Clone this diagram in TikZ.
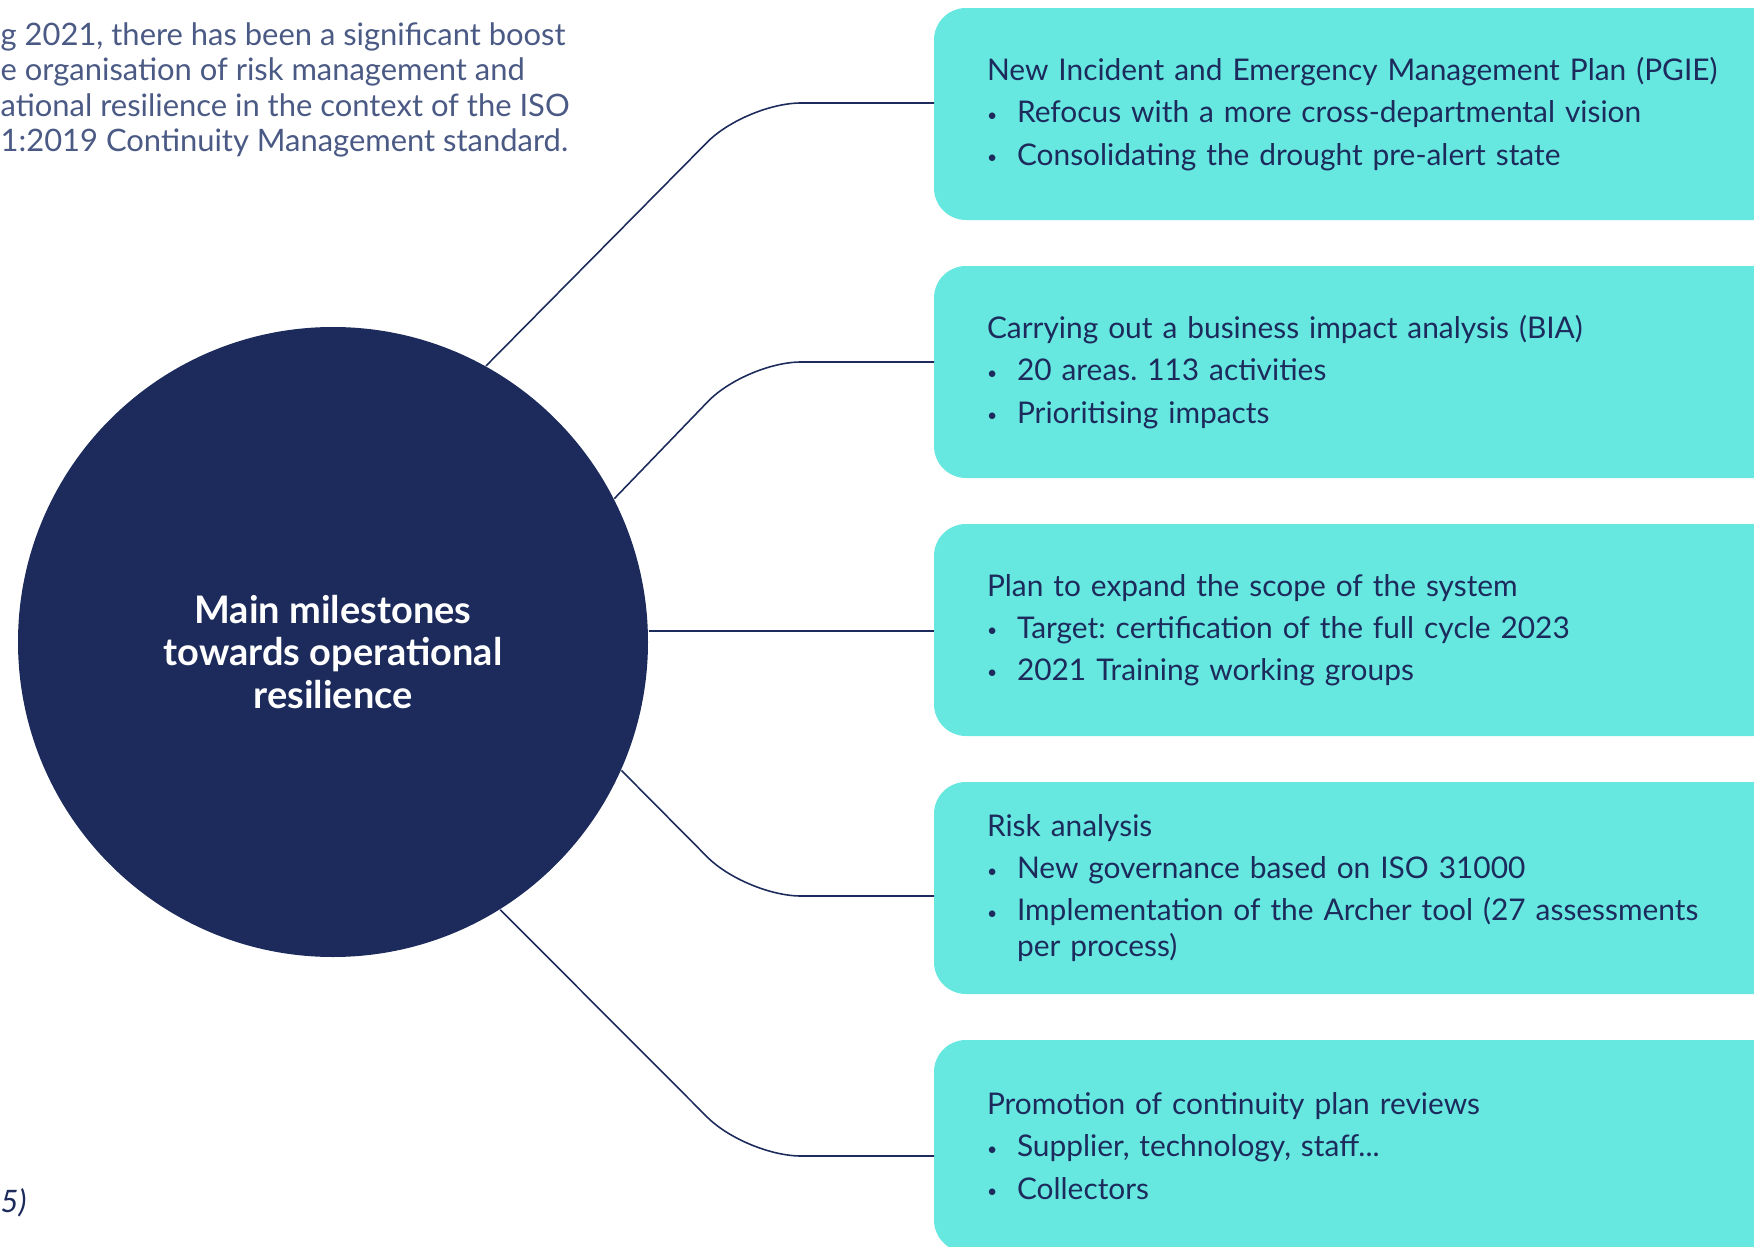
\documentclass[tikz,border=0pt]{standalone}
\usepackage{fontspec}
\setmainfont{Lato}
\usetikzlibrary{positioning}

\definecolor{navy}{HTML}{1C2B5C}
\definecolor{aqua}{HTML}{66E8E0}
\definecolor{introgrey}{HTML}{4A5A84}

\newcommand{\bul}[1]{\\[1.8pt]\makebox[0.3cm][l]{\raisebox{0.1ex}{\tiny\textbullet}}#1}
\frenchspacing

\begin{document}
\begin{tikzpicture}[
  hub/.style={circle, fill=navy, minimum size=6.3cm, inner sep=0pt},
  hubtitle/.style={text=white, align=center, inner sep=0pt,
    font=\fontsize{10.8}{12.2}\selectfont\bfseries},
  card/.style={rectangle, rounded corners=0.32cm, fill=aqua, minimum height=2.12cm,
    text width=7.8cm, inner xsep=0.53cm, outer sep=0pt, text=navy, align=left,
    font=\fontsize{8.5}{10.2}\selectfont},
  link/.style={draw=navy, line width=0.45pt, rounded corners=0.55cm},
  intro/.style={text=introgrey, align=left, inner sep=0pt,
    font=\fontsize{8.8}{10.1}\selectfont},
]
\useasboundingbox (0,0) rectangle (17.54,-12.47);
\clip (0,0) rectangle (17.54,-12.47);

\node (introtext) [intro, anchor=north west] at (0,-0.22)
  {g 2021, there has been a significant boost\\
   e organisation of risk management and\\
   ational resilience in the context of the ISO\\
   1:2019 Continuity Management standard.};
\node (source) [intro, text=navy, anchor=west] at (0,-12.03) {\itshape 5)};

\node (hub) [hub] at (3.33,-6.42) {};
\node (hubtext) [hubtitle] at ([yshift=-0.1cm]hub.center)
  {Main milestones\\towards operational\\resilience};

\node (pgie) [card, anchor=west] at (9.34,-1.14)
  {New Incident and Emergency Management Plan (PGIE)
   \bul{Refocus with a more cross-departmental vision}
   \bul{Consolidating the drought pre-alert state}};
\node (bia) [card, below=0.46cm of pgie]
  {Carrying out a business impact analysis (BIA)
   \bul{20 areas. 113 activities}
   \bul{Prioritising impacts}};
\node (scope) [card, below=0.46cm of bia]
  {Plan to expand the scope of the system
   \bul{Target: certification of the full cycle 2023}
   \bul{2021 Training working groups}};
\node (risk) [card, below=0.46cm of scope]
  {Risk analysis
   \bul{New governance based on ISO 31000}
   \bul{Implementation of the Archer tool (27 assessments}\\
   \hspace*{0.3cm}per process)};
\node (reviews) [card, below=0.46cm of risk]
  {Promotion of continuity plan reviews
   \bul{Supplier, technology, staff...}
   \bul{Collectors}};

\coordinate (j1) at (7.46,-1.03);
\coordinate (j2) at (7.46,-3.62);
\coordinate (j4) at (7.46,-8.96);
\coordinate (j5) at (7.46,-11.56);

\draw [link] (hub.61.5) -- (j1) -- (j1 -| pgie.west);
\draw [link] (hub.27.5) -- (j2) -- (j2 -| bia.west);
\draw [link] (hub.2) -- (hub.2 -| scope.west);
\draw [link] (hub.-24) -- (j4) -- (j4 -| risk.west);
\draw [link] (hub.-58) -- (j5) -- (j5 -| reviews.west);
\end{tikzpicture}
\end{document}
